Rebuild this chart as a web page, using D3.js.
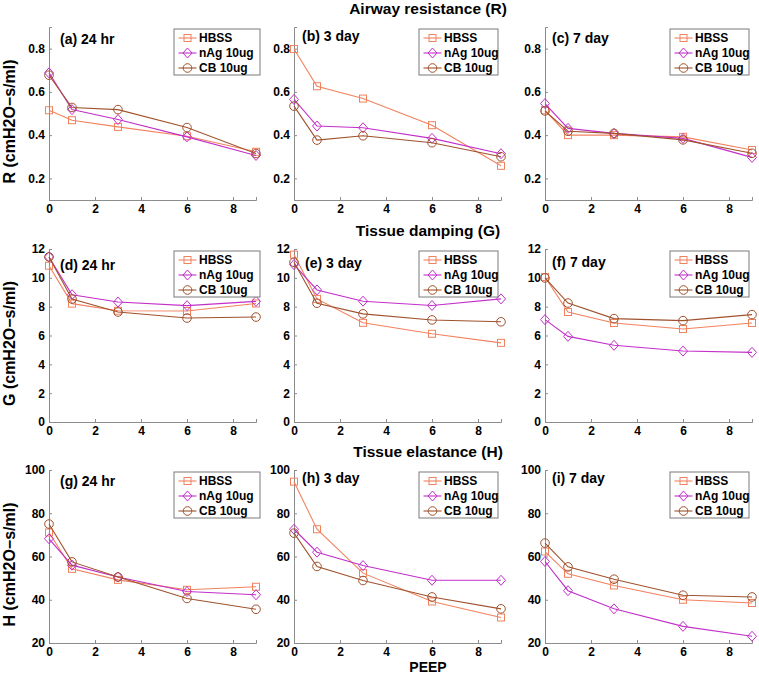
<!DOCTYPE html>
<html><head><meta charset="utf-8">
<script src="https://cdn.jsdelivr.net/npm/d3@7"></script>
<style>
html,body{margin:0;padding:0;background:#fff;}
svg text{font-family:"Liberation Sans",Arial,sans-serif;font-weight:bold;fill:#000;}
</style></head>
<body><svg id="chart" width="759" height="676"></svg>
<script>
// ---------- data ----------
const peep = [0, 1, 3, 6, 9];
const seriesNames = ["HBSS", "nAg 10ug", "CB 10ug"];
const rowTitles = ["Airway resistance (R)", "Tissue damping (G)", "Tissue elastance (H)"];
const rowYLabels = ["R (cmH2O\u2212s/ml)", "G (cmH2O\u2212s/ml)", "H (cmH2O\u2212s/ml)"];
const panelLabels = ["(a) 24 hr","(b) 3 day","(c) 7 day","(d) 24 hr","(e) 3 day","(f) 7 day","(g) 24 hr","(h) 3 day","(i) 7 day"];
const yDomains = [[0.1, 0.9], [0, 12], [20, 100]];
const yTicks = [[0.2, 0.4, 0.6, 0.8], [0, 2, 4, 6, 8, 10, 12], [20, 40, 60, 80, 100]];
const xTicks = [0, 2, 4, 6, 8];
const xLabel = "PEEP";

// R values
const R_HBSS = [[0.515,0.469,0.438,0.395,0.323],[0.798,0.626,0.569,0.446,0.258],[0.515,0.400,0.400,0.392,0.331]];
const R_nAg  = [[0.688,0.518,0.472,0.392,0.306],[0.565,0.442,0.434,0.385,0.314],[0.546,0.431,0.408,0.385,0.297]];
const R_CB   = [[0.677,0.528,0.518,0.435,0.315],[0.534,0.377,0.397,0.365,0.300],[0.512,0.418,0.408,0.378,0.316]];
// G values
const G_HBSS = [[10.84,8.21,7.72,7.70,8.22],[11.61,8.54,6.88,6.12,5.49],[10.06,7.63,6.87,6.45,6.87]];
const G_nAg  = [[11.45,8.83,8.32,8.07,8.37],[10.92,9.16,8.38,8.08,8.54],[7.10,5.94,5.32,4.92,4.83]];
const G_CB   = [[11.45,8.53,7.63,7.21,7.28],[11.08,8.24,7.50,7.08,6.95],[9.99,8.25,7.17,7.03,7.45]];
// H values
const H_HBSS = [[71.1,54.3,49.2,44.6,46.0],[94.6,72.6,52.3,39.2,31.8],[62.3,52.0,46.6,40.0,38.5]];
const H_nAg  = [[68.2,56.0,50.5,43.8,42.3],[72.6,62.0,55.8,49.0,49.0],[57.7,44.2,35.8,27.7,23.1]];
const H_CB   = [[75.0,57.5,50.5,40.6,35.6],[70.8,55.4,48.9,41.3,35.8],[66.2,55.2,49.5,42.1,41.3]];

const rowData = [[R_HBSS, R_nAg, R_CB], [G_HBSS, G_nAg, G_CB], [H_HBSS, H_nAg, H_CB]];

// ---------- style / layout ----------
const colors = ["#f2825e", "#c22fc9", "#a0522d"];
const markers = ["square", "diamond", "circle"];
const colLeft = [49, 294, 545];
const rowTop = [27, 249, 470];
const plotW = 207, plotH = 173;
const labelOff = [[11,17],[8,14],[7,16],[11,21],[11,19],[7,18],[11,16],[8,13],[7,13]];
const legendW = [86, 79, 79];
const axisColor = "#8c8c8c";

const svg = d3.select("#chart");

function drawMarker(g, type, x, y, color) {
  if (type === "square") {
    g.append("rect").attr("x", x - 3.5).attr("y", y - 3.5).attr("width", 7).attr("height", 7)
      .attr("fill", "none").attr("stroke", color).attr("stroke-width", 1);
  } else if (type === "diamond") {
    g.append("path").attr("d", `M${x},${y-5}L${x+4.5},${y}L${x},${y+5}L${x-4.5},${y}Z`)
      .attr("fill", "none").attr("stroke", color).attr("stroke-width", 1);
  } else {
    g.append("circle").attr("cx", x).attr("cy", y).attr("r", 4.3)
      .attr("fill", "none").attr("stroke", color).attr("stroke-width", 1);
  }
}

for (let r = 0; r < 3; r++) {
  for (let c = 0; c < 3; c++) {
    const x = d3.scaleLinear().domain([0, 9]).range([colLeft[c], colLeft[c] + plotW]);
    const y = d3.scaleLinear().domain(yDomains[r]).range([rowTop[r] + plotH, rowTop[r]]);
    const g = svg.append("g");

    // axes
    const xAx = g.append("g").attr("transform", `translate(0,${rowTop[r] + plotH})`)
      .call(d3.axisBottom(x).tickValues(xTicks).tickSize(-3).tickPadding(4).tickFormat(d3.format("d")));
    const yAx = g.append("g").attr("transform", `translate(${colLeft[c]},0)`)
      .call(d3.axisLeft(y).tickValues(yTicks[r]).tickSize(-3).tickPadding(4)
        .tickFormat(r === 0 ? d3.format(".1f") : d3.format("d")));
    [xAx, yAx].forEach(a => {
      a.select(".domain").attr("stroke", axisColor).attr("stroke-width", 1);
      a.selectAll(".tick line").attr("stroke", axisColor);
      a.selectAll(".tick text").attr("font-size", 12).attr("fill", "#000")
        .style("font-family", "'Liberation Sans',Arial,sans-serif").style("font-weight", "bold");
    });
    xAx.selectAll(".tick text").attr("dy", "0.76em");

    // series
    const sets = rowData[r];
    for (let s = 0; s < 3; s++) {
      const vals = sets[s][c];
      const pts = peep.map((p, i) => [x(p), y(vals[i])]);
      g.append("path").attr("d", d3.line()(pts)).attr("fill", "none")
        .attr("stroke", colors[s]).attr("stroke-width", 1.1);
      pts.forEach(pt => drawMarker(g, markers[s], pt[0], pt[1], colors[s]));
    }

    // panel label
    const k = r * 3 + c;
    g.append("text").attr("x", colLeft[c] + labelOff[k][0]).attr("y", rowTop[r] + labelOff[k][1])
      .attr("font-size", 14).text(panelLabels[k]);

    // legend
    const lx = colLeft[c] + plotW - 82, ly = rowTop[r] + 2;
    const lg = g.append("g");
    lg.append("rect").attr("x", lx).attr("y", ly).attr("width", legendW[c]).attr("height", 46)
      .attr("fill", "#fff").attr("stroke", "#7a7a7a").attr("stroke-width", 1);
    seriesNames.forEach((nm, s) => {
      const cy = ly + 9 + s * 15;
      lg.append("line").attr("x1", lx + 4.5).attr("x2", lx + 22.5).attr("y1", cy).attr("y2", cy)
        .attr("stroke", colors[s]).attr("stroke-width", 1.1);
      drawMarker(lg, markers[s], lx + 13.5, cy, colors[s]);
      lg.append("text").attr("x", lx + 25).attr("y", cy).attr("dy", "0.36em")
        .attr("font-size", 12).text(nm);
    });
  }
  // row title
  svg.append("text").attr("x", 428).attr("y", rowTop[r] - 13).attr("text-anchor", "middle")
    .attr("font-size", 15.5).text(rowTitles[r]);
  // y label
  svg.append("text").attr("transform", `translate(15,${rowTop[r] + plotH / 2 + 8}) rotate(-90)`)
    .attr("text-anchor", "middle").attr("font-size", 16).text(rowYLabels[r]);
}
svg.append("text").attr("x", 428).attr("y", 672).attr("text-anchor", "middle")
  .attr("font-size", 14).text(xLabel);
</script>
</body></html>
